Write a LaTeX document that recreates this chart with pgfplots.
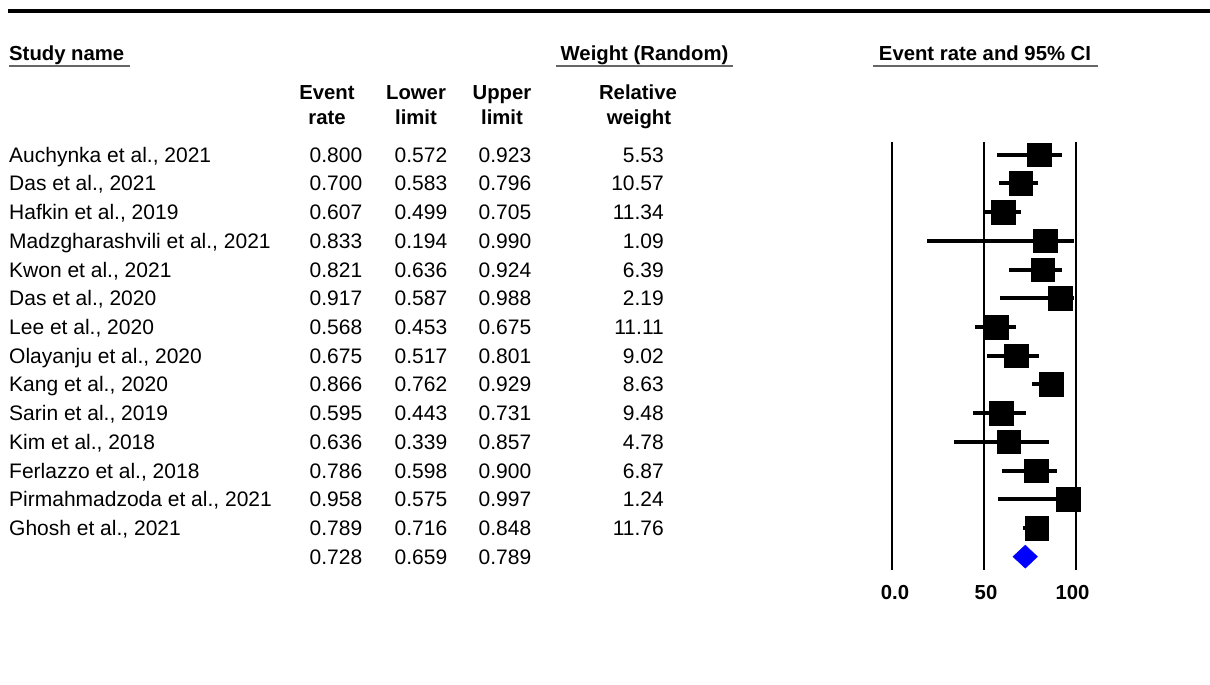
\documentclass[border=0pt]{standalone}
\usepackage{pgfplots}
\pgfplotsset{compat=1.18}
\usepackage{fontspec}
\setmainfont{Liberation Sans}
\begin{document}
\begin{tikzpicture}[x=1pt,y=-1pt]
\tikzset{hd/.style={font=\fontsize{20.3}{25}\selectfont\bfseries, inner sep=0pt},
         bd/.style={font=\fontsize{21}{25}\selectfont, inner sep=0pt}}
\path[use as bounding box] (0,0) rectangle (1210,685);
\fill[black] (8,9) rectangle (1210,13.5);
% column headers
\node[hd, anchor=base west] at (9,60) {Study name};
\draw[black!60, line width=1.6pt] (9,65.8) -- (130,65.8);
\node[hd, anchor=base] at (644.5,60) {Weight (Random)};
\draw[black!60, line width=1.6pt] (556,65.8) -- (733,65.8);
\node[hd, anchor=base] at (985,60) {Event rate and 95\% CI};
\draw[black!60, line width=1.6pt] (873,65.8) -- (1098,65.8);
\node[hd, anchor=base] at (327,99.5) {Event};
\node[hd, anchor=base] at (327,124.5) {rate};
\node[hd, anchor=base] at (416,99.5) {Lower};
\node[hd, anchor=base] at (416,124.5) {limit};
\node[hd, anchor=base] at (502,99.5) {Upper};
\node[hd, anchor=base] at (502,124.5) {limit};
\node[hd, anchor=base] at (638,99.5) {Relative};
\node[hd, anchor=base] at (639,124.5) {weight};
% table body
\foreach \r/\n/\a/\b/\c/\w in {
 1/{Auchynka et al., 2021}/0.800/0.572/0.923/5.53,
 2/{Das et al., 2021}/0.700/0.583/0.796/10.57,
 3/{Hafkin et al., 2019}/0.607/0.499/0.705/11.34,
 4/{Madzgharashvili et al., 2021}/0.833/0.194/0.990/1.09,
 5/{Kwon et al., 2021}/0.821/0.636/0.924/6.39,
 6/{Das et al., 2020}/0.917/0.587/0.988/2.19,
 7/{Lee et al., 2020}/0.568/0.453/0.675/11.11,
 8/{Olayanju et al., 2020}/0.675/0.517/0.801/9.02,
 9/{Kang et al., 2020}/0.866/0.762/0.929/8.63,
 10/{Sarin et al., 2019}/0.595/0.443/0.731/9.48,
 11/{Kim et al., 2018}/0.636/0.339/0.857/4.78,
 12/{Ferlazzo et al., 2018}/0.786/0.598/0.900/6.87,
 13/{Pirmahmadzoda et al., 2021}/0.958/0.575/0.997/1.24,
 14/{Ghosh et al., 2021}/0.789/0.716/0.848/11.76,
 15/{}/0.728/0.659/0.789/{}} {
  \pgfmathsetmacro\yb{154.7+(\r-1)*28.71+7.5}
  \node[bd, anchor=base west] at (9,\yb) {\n};
  \node[bd, anchor=base] at (336,\yb) {\a};
  \node[bd, anchor=base] at (421,\yb) {\b};
  \node[bd, anchor=base] at (505,\yb) {\c};
  \node[bd, anchor=base east] at (664,\yb) {\w};
}
% forest plot
\begin{axis}[at={(891.7pt,-141.7pt)}, anchor=north west, scale only axis,
  width=184pt, height=428.3pt, xmin=0, xmax=100, ymin=0.547, ymax=15.465,
  y dir=reverse, axis lines=none, clip=false]
\draw[black, line width=2.2pt] (axis cs:0,0.547) -- (axis cs:0,15.465);
\draw[black, line width=1.8pt] (axis cs:50,0.547) -- (axis cs:50,15.465);
\draw[black, line width=1.8pt] (axis cs:100,0.547) -- (axis cs:100,15.465);
\addplot[only marks, mark=square*, mark size=11.8pt, mark options={black, fill=black},
  error bars/.cd, x dir=both, x explicit, error mark=none,
  error bar style={line width=4pt, black}]
 coordinates {
 (80.0,1) -= (22.8,0) += (12.3,0)
 (70.0,2) -= (11.7,0) += (9.6,0)
 (60.7,3) -= (10.8,0) += (9.8,0)
 (83.3,4) -= (63.9,0) += (15.7,0)
 (82.1,5) -= (18.5,0) += (10.3,0)
 (91.7,6) -= (33.0,0) += (7.1,0)
 (56.8,7) -= (11.5,0) += (10.7,0)
 (67.5,8) -= (15.8,0) += (12.6,0)
 (86.6,9) -= (10.4,0) += (6.3,0)
 (59.5,10) -= (15.2,0) += (13.6,0)
 (63.6,11) -= (29.7,0) += (22.1,0)
 (78.6,12) -= (18.8,0) += (11.4,0)
 (95.8,13) -= (38.3,0) += (3.9,0)
 (78.9,14) -= (7.3,0) += (5.9,0)
 };
\addplot[fill=blue, draw=blue, line width=0.5pt] coordinates
 {(65.9,15) (72.6,14.6) (79.2,15) (72.6,15.4)} -- cycle;
\end{axis}
% axis tick labels
\node[hd, anchor=base] at (895,599) {0.0};
\node[hd, anchor=base] at (986,599) {50};
\node[hd, anchor=base] at (1072.5,599) {100};
\end{tikzpicture}
\end{document}
